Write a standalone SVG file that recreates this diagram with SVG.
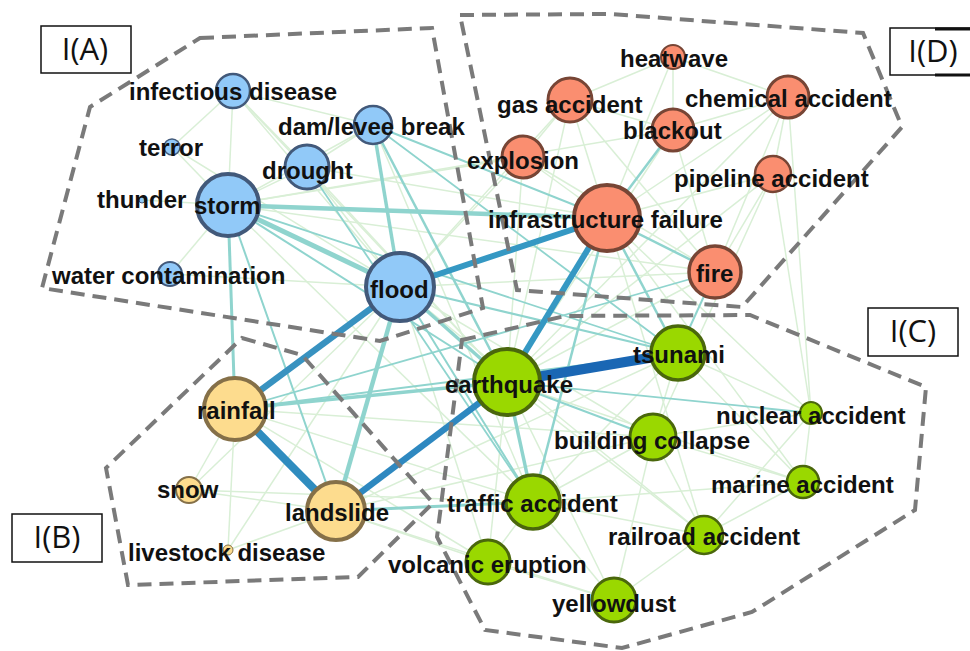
<svg xmlns="http://www.w3.org/2000/svg" width="970" height="651" viewBox="0 0 970 651">
<style>
.lbl{font-family:"Liberation Sans",Arial,sans-serif;font-weight:bold;font-size:24px;fill:#111}
.tag{font-family:"Open Sans","Liberation Sans",sans-serif;font-size:31px;fill:#111;text-anchor:middle}
.tagbox{fill:#fff;stroke:#111;stroke-width:1.5}
.a{fill:#91c9f8;stroke:#42597a}
.b{fill:#fddc8e;stroke:#857048}
.c{fill:#9ad800;stroke:#4a670c}
.d{fill:#fa8e70;stroke:#774535}
.f line{stroke:#d9efd6;stroke-width:1.5}
.m line{stroke:#8fd4ce}
.hull{fill:none;stroke:#7a7a7a;stroke-width:4;stroke-dasharray:14 8}
</style>
<rect width="970" height="651" fill="#fff"/>
<g id="connectors">
<g class="f">
<line x1="233" y1="91" x2="228" y2="205"/><line x1="233" y1="91" x2="400" y2="287"/><line x1="233" y1="91" x2="307" y2="167"/><line x1="233" y1="91" x2="373" y2="125"/><line x1="233" y1="91" x2="172" y2="147"/><line x1="233" y1="91" x2="507" y2="382"/>
<line x1="172" y1="147" x2="228" y2="205"/><line x1="172" y1="147" x2="400" y2="287"/><line x1="307" y1="167" x2="228" y2="205"/><line x1="307" y1="167" x2="400" y2="287"/><line x1="142" y1="200" x2="228" y2="205"/><line x1="170" y1="274" x2="228" y2="205"/><line x1="170" y1="274" x2="400" y2="287"/><line x1="373" y1="125" x2="228" y2="205"/><line x1="307" y1="167" x2="373" y2="125"/><line x1="307" y1="167" x2="507" y2="382"/><line x1="307" y1="167" x2="607" y2="218"/>
<line x1="673" y1="57" x2="673" y2="130"/><line x1="673" y1="57" x2="607" y2="218"/><line x1="673" y1="57" x2="570" y2="100"/><line x1="673" y1="57" x2="788" y2="97"/><line x1="570" y1="100" x2="607" y2="218"/><line x1="570" y1="100" x2="523" y2="157"/><line x1="570" y1="100" x2="673" y2="130"/><line x1="788" y1="97" x2="607" y2="218"/><line x1="788" y1="97" x2="773" y2="174"/><line x1="788" y1="97" x2="673" y2="130"/><line x1="523" y1="157" x2="607" y2="218"/><line x1="773" y1="174" x2="607" y2="218"/><line x1="523" y1="157" x2="715" y2="272"/><line x1="570" y1="100" x2="715" y2="272"/><line x1="773" y1="174" x2="715" y2="272"/><line x1="673" y1="130" x2="715" y2="272"/><line x1="788" y1="97" x2="715" y2="272"/>
<line x1="400" y1="287" x2="570" y2="100"/><line x1="400" y1="287" x2="523" y2="157"/><line x1="228" y1="205" x2="673" y2="130"/><line x1="228" y1="205" x2="523" y2="157"/><line x1="373" y1="125" x2="533" y2="502"/><line x1="228" y1="205" x2="533" y2="502"/><line x1="400" y1="287" x2="653" y2="437"/><line x1="235" y1="409" x2="533" y2="502"/><line x1="235" y1="409" x2="653" y2="437"/>
<line x1="189" y1="490" x2="235" y2="409"/><line x1="189" y1="490" x2="336" y2="511"/><line x1="189" y1="490" x2="533" y2="502"/><line x1="189" y1="490" x2="400" y2="287"/><line x1="228" y1="550" x2="235" y2="409"/><line x1="228" y1="550" x2="336" y2="511"/><line x1="228" y1="550" x2="400" y2="287"/>
<line x1="336" y1="511" x2="653" y2="437"/><line x1="336" y1="511" x2="678" y2="353"/><line x1="336" y1="511" x2="488" y2="562"/><line x1="336" y1="511" x2="614" y2="600"/>
<line x1="507" y1="382" x2="488" y2="562"/><line x1="507" y1="382" x2="704" y2="535"/><line x1="507" y1="382" x2="803" y2="482"/><line x1="507" y1="382" x2="614" y2="600"/><line x1="678" y1="353" x2="811" y2="413"/><line x1="678" y1="353" x2="653" y2="437"/><line x1="678" y1="353" x2="803" y2="482"/><line x1="678" y1="353" x2="533" y2="502"/><line x1="653" y1="437" x2="533" y2="502"/><line x1="653" y1="437" x2="704" y2="535"/><line x1="653" y1="437" x2="803" y2="482"/><line x1="653" y1="437" x2="811" y2="413"/><line x1="533" y1="502" x2="704" y2="535"/><line x1="533" y1="502" x2="488" y2="562"/><line x1="533" y1="502" x2="614" y2="600"/><line x1="533" y1="502" x2="803" y2="482"/><line x1="704" y1="535" x2="614" y2="600"/><line x1="803" y1="482" x2="704" y2="535"/><line x1="811" y1="413" x2="803" y2="482"/><line x1="811" y1="413" x2="704" y2="535"/><line x1="614" y1="600" x2="488" y2="562"/><line x1="653" y1="437" x2="614" y2="600"/>
<line x1="715" y1="272" x2="507" y2="382"/><line x1="673" y1="130" x2="507" y2="382"/><line x1="523" y1="157" x2="507" y2="382"/><line x1="773" y1="174" x2="507" y2="382"/><line x1="788" y1="97" x2="507" y2="382"/><line x1="570" y1="100" x2="507" y2="382"/><line x1="788" y1="97" x2="811" y2="413"/><line x1="773" y1="174" x2="811" y2="413"/><line x1="607" y1="218" x2="811" y2="413"/><line x1="607" y1="218" x2="803" y2="482"/><line x1="607" y1="218" x2="704" y2="535"/><line x1="773" y1="174" x2="653" y2="437"/><line x1="400" y1="287" x2="704" y2="535"/><line x1="400" y1="287" x2="488" y2="562"/><line x1="235" y1="409" x2="488" y2="562"/><line x1="400" y1="287" x2="715" y2="272"/><line x1="228" y1="205" x2="715" y2="272"/>
</g>
<g class="m">
<line x1="228" y1="205" x2="400" y2="287" stroke-width="5"/>
<line x1="228" y1="205" x2="607" y2="218" stroke-width="4.5"/>
<line x1="228" y1="205" x2="235" y2="409" stroke-width="3"/>
<line x1="373" y1="125" x2="400" y2="287" stroke-width="3.5"/>
<line x1="373" y1="125" x2="507" y2="382" stroke-width="2.5"/>
<line x1="373" y1="125" x2="607" y2="218" stroke-width="2"/>
<line x1="400" y1="287" x2="507" y2="382" stroke-width="3.5"/>
<line x1="400" y1="287" x2="336" y2="511" stroke="#70c6c8" stroke-width="4.5"/>
<line x1="235" y1="409" x2="507" y2="382" stroke-width="3.5"/>
<line x1="336" y1="511" x2="533" y2="502" stroke-width="3"/>
<line x1="507" y1="382" x2="533" y2="502" stroke-width="3.5"/>
<line x1="607" y1="218" x2="715" y2="272" stroke-width="2.5"/>
<line x1="607" y1="218" x2="673" y2="130" stroke-width="2.5"/>
<line x1="607" y1="218" x2="533" y2="502" stroke-width="2.5"/>
<line x1="607" y1="218" x2="678" y2="353" stroke-width="2.5"/>
<line x1="507" y1="382" x2="653" y2="437" stroke-width="2"/>
<line x1="678" y1="353" x2="400" y2="287" stroke-width="2"/>
<line x1="678" y1="353" x2="235" y2="409" stroke-width="2"/>
<line x1="228" y1="205" x2="507" y2="382" stroke-width="2"/>
<line x1="228" y1="205" x2="336" y2="511" stroke-width="2"/>
<line x1="400" y1="287" x2="533" y2="502" stroke-width="2"/>
<line x1="715" y1="272" x2="678" y2="353" stroke-width="2"/>
<line x1="715" y1="272" x2="235" y2="409" stroke-width="1.8"/>
<line x1="507" y1="382" x2="811" y2="413" stroke-width="1.8"/>
<line x1="228" y1="205" x2="678" y2="353" stroke-width="1.8"/>
<line x1="373" y1="125" x2="678" y2="353" stroke-width="1.8"/>
<line x1="307" y1="167" x2="533" y2="502" stroke-width="1.8"/>
</g>
<line x1="400" y1="287" x2="607" y2="218" stroke="#3598c3" stroke-width="6"/>
<line x1="507" y1="382" x2="607" y2="218" stroke="#3598c3" stroke-width="6"/>
<line x1="400" y1="287" x2="235" y2="409" stroke="#3892c0" stroke-width="6.5"/>
<line x1="235" y1="409" x2="336" y2="511" stroke="#2f8cbf" stroke-width="8"/>
<line x1="336" y1="511" x2="507" y2="382" stroke="#2e88c0" stroke-width="6.5"/>
<line x1="507" y1="382" x2="678" y2="353" stroke="#1a67b4" stroke-width="10"/>
</g>
<g id="hulls">
<polygon class="hull" points="200,38 432,28 483,308 380,341 42,288 90,107"/>
<polygon class="hull" points="460,15 610,14 863,33 902,127 742,307 517,290"/>
<polygon class="hull" points="242,338 302,355 433,503 358,577 128,585 106,468"/>
<polygon class="hull" points="462,340 565,316 750,315 926,387 915,510 752,612 622,648 485,630 437,537"/>
</g>
<g id="tag-A"><rect class="tagbox" x="41" y="26" width="90" height="47"/><text class="tag" x="85" y="60">I(A)</text></g>
<g id="tag-B"><rect class="tagbox" x="12" y="514" width="90" height="48"/><text class="tag" x="57" y="548">I(B)</text></g>
<g id="tag-C"><rect class="tagbox" x="868" y="308" width="90" height="48"/><text class="tag" x="913" y="342">I(C)</text></g>
<g id="tag-D"><rect class="tagbox" x="890" y="28" width="90" height="47"/><line x1="935" y1="29" x2="970" y2="29" stroke="#111" stroke-width="3"/><line x1="935" y1="75" x2="970" y2="75" stroke="#111" stroke-width="3"/><text class="tag" x="933" y="62">I(D)</text></g>
<g id="n-infectious"><circle class="a" cx="233" cy="91" r="17" stroke-width="2.5"/><text class="lbl" x="129" y="100">infectious disease</text></g>
<g id="n-dam"><circle class="a" cx="373" cy="125" r="19" stroke-width="2.5"/><text class="lbl" x="278" y="135">dam/levee break</text></g>
<g id="n-terror"><circle class="a" cx="172" cy="147" r="8" stroke-width="1.5"/><text class="lbl" x="139" y="156">terror</text></g>
<g id="n-drought"><circle class="a" cx="307" cy="167" r="22" stroke-width="3"/><text class="lbl" x="262" y="179">drought</text></g>
<g id="n-thunder"><circle class="a" cx="142" cy="200" r="3" stroke-width="1"/><text class="lbl" x="97" y="208">thunder</text></g>
<g id="n-storm"><circle class="a" cx="228" cy="205" r="31" stroke-width="4"/><text class="lbl" x="194" y="214">storm</text></g>
<g id="n-water"><circle class="a" cx="170" cy="274" r="12" stroke-width="2"/><text class="lbl" x="52" y="284">water contamination</text></g>
<g id="n-flood"><circle class="a" cx="400" cy="287" r="34" stroke-width="4"/><text class="lbl" x="370" y="298">flood</text></g>
<g id="n-heatwave"><circle class="d" cx="673" cy="57" r="12" stroke-width="2"/><text class="lbl" x="620" y="67">heatwave</text></g>
<g id="n-gas"><circle class="d" cx="570" cy="100" r="22" stroke-width="3"/><text class="lbl" x="497" y="113">gas accident</text></g>
<g id="n-chemical"><circle class="d" cx="788" cy="97" r="21" stroke-width="3"/><text class="lbl" x="685" y="107">chemical accident</text></g>
<g id="n-blackout"><circle class="d" cx="673" cy="130" r="21" stroke-width="3"/><text class="lbl" x="623" y="139">blackout</text></g>
<g id="n-explosion"><circle class="d" cx="523" cy="157" r="21" stroke-width="3"/><text class="lbl" x="467" y="169">explosion</text></g>
<g id="n-pipeline"><circle class="d" cx="773" cy="174" r="18" stroke-width="2.5"/><text class="lbl" x="674" y="187">pipeline accident</text></g>
<g id="n-infra"><circle class="d" cx="607" cy="218" r="33" stroke-width="4"/><text class="lbl" x="488" y="228">infrastructure failure</text></g>
<g id="n-fire"><circle class="d" cx="715" cy="272" r="26" stroke-width="3.5"/><text class="lbl" x="696" y="282">fire</text></g>
<g id="n-rainfall"><circle class="b" cx="235" cy="409" r="31" stroke-width="4"/><text class="lbl" x="197" y="419">rainfall</text></g>
<g id="n-snow"><circle class="b" cx="189" cy="490" r="13" stroke-width="2"/><text class="lbl" x="157" y="498">snow</text></g>
<g id="n-landslide"><circle class="b" cx="336" cy="511" r="29" stroke-width="4"/><text class="lbl" x="285" y="521">landslide</text></g>
<g id="n-livestock"><circle class="b" cx="228" cy="550" r="5" stroke-width="1"/><text class="lbl" x="128" y="561">livestock disease</text></g>
<g id="n-tsunami"><circle class="c" cx="678" cy="353" r="27" stroke-width="3.5"/><text class="lbl" x="633" y="363">tsunami</text></g>
<g id="n-earthquake"><circle class="c" cx="507" cy="382" r="33" stroke-width="4"/><text class="lbl" x="445" y="393">earthquake</text></g>
<g id="n-nuclear"><circle class="c" cx="811" cy="413" r="11" stroke-width="2"/><text class="lbl" x="716" y="424">nuclear accident</text></g>
<g id="n-building"><circle class="c" cx="653" cy="437" r="23" stroke-width="3"/><text class="lbl" x="554" y="449">building collapse</text></g>
<g id="n-marine"><circle class="c" cx="803" cy="482" r="16" stroke-width="2.5"/><text class="lbl" x="711" y="493">marine accident</text></g>
<g id="n-traffic"><circle class="c" cx="533" cy="502" r="27" stroke-width="3.5"/><text class="lbl" x="447" y="512">traffic accident</text></g>
<g id="n-railroad"><circle class="c" cx="704" cy="535" r="19" stroke-width="2.5"/><text class="lbl" x="608" y="545">railroad accident</text></g>
<g id="n-volcanic"><circle class="c" cx="488" cy="562" r="22" stroke-width="3"/><text class="lbl" x="388" y="573">volcanic eruption</text></g>
<g id="n-yellowdust"><circle class="c" cx="614" cy="600" r="22" stroke-width="3"/><text class="lbl" x="552" y="612">yellowdust</text></g>
</svg>
